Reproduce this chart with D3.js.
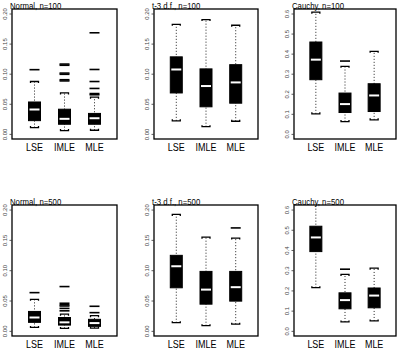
<!DOCTYPE html>
<html>
<head>
<meta charset="utf-8">
<script src="https://cdn.jsdelivr.net/npm/d3@7"></script>
<style>
body { margin:0; background:#fff; }
svg { display:block; }
</style>
</head>
<body>
<div id="chart1"></div>
<script>
// categories and panel titles
var categories = ["LSE", "IMLE", "MLE"];
var titles = ["Normal, n=100", "t-3 d.f., n=100", "Cauchy, n=100",
              "Normal, n=500", "t-3 d.f., n=500", "Cauchy, n=500"];

// box stats per panel: [lower whisker, q1, median, q3, upper whisker] for LSE, IMLE, MLE
var normal100 = [[0.0105, 0.022, 0.0405, 0.053, 0.087],
                 [0.0055, 0.016, 0.025, 0.041, 0.068],
                 [0.006, 0.016, 0.026, 0.034, 0.061]];
var normal100Out = [[0.1067],
                    [0.088, 0.090, 0.099, 0.101, 0.114, 0.116],
                    [0.065, 0.067, 0.0755, 0.087, 0.107, 0.168]];

var t100 = [[0.0217, 0.068, 0.107, 0.128, 0.182],
            [0.012, 0.045, 0.0795, 0.108, 0.19],
            [0.021, 0.051, 0.0855, 0.115, 0.1805]];
var t100Out = [[], [], []];

var cauchy100 = [[0.10, 0.27, 0.37, 0.458, 0.6065],
                 [0.0615, 0.1065, 0.1485, 0.2035, 0.337],
                 [0.07, 0.1115, 0.1915, 0.25, 0.4115]];
var cauchy100Out = [[], [0.363], []];

var normal500 = [[0.0057, 0.014, 0.022, 0.032, 0.052],
                 [0.004, 0.0095, 0.014, 0.022, 0.0275],
                 [0.0046, 0.0074, 0.0128, 0.019, 0.025]];
var normal500Out = [[0.063],
                    [0.033, 0.037, 0.041, 0.043, 0.0455, 0.073],
                    [0.030, 0.0405]];

var t500 = [[0.0134, 0.071, 0.1065, 0.1245, 0.192],
            [0.0085, 0.044, 0.068, 0.098, 0.1545],
            [0.011, 0.049, 0.072, 0.098, 0.153]];
var t500Out = [[], [], [0.1697]];

var cauchy500 = [[0.2137, 0.392, 0.462, 0.5175, 0.68],
                 [0.044, 0.109, 0.152, 0.188, 0.279],
                 [0.049, 0.114, 0.1745, 0.212, 0.31]];
var cauchy500Out = [[], [0.305], []];

// y tick labels
var ticksSmall = [0, 0.05, 0.10, 0.15, 0.20];
var ticksCauchy = [0, 0.1, 0.2, 0.3, 0.4, 0.5, 0.6];

var panels = [
  {stats: normal100, out: normal100Out, ticks: ticksSmall, fmt: ".2f", max: 0.2},
  {stats: t100, out: t100Out, ticks: ticksSmall, fmt: ".2f", max: 0.2},
  {stats: cauchy100, out: cauchy100Out, ticks: ticksCauchy, fmt: ".1f", max: 0.6},
  {stats: normal500, out: normal500Out, ticks: ticksSmall, fmt: ".2f", max: 0.2},
  {stats: t500, out: t500Out, ticks: ticksSmall, fmt: ".2f", max: 0.2},
  {stats: cauchy500, out: cauchy500Out, ticks: ticksCauchy, fmt: ".1f", max: 0.6}
];

var w = 402, h = 364;
var colLeft = [12, 154, 294], colRight = [117, 258, 396];
var rowTop = [9, 205], rowBottom = [139, 336];
var font = "'Liberation Sans Narrow', 'Arial Narrow', 'Liberation Sans', sans-serif";

var svg = d3.select("#chart1")
  .append("svg")
  .attr("width", w)
  .attr("height", h);

panels.forEach(function(p, i) {
  var c = i % 3, r = Math.floor(i / 3);
  var x0 = colLeft[c], x1 = colRight[c], y0 = rowTop[r], y1 = rowBottom[r];

  var xScale = d3.scaleLinear().domain([0.25, 3.75]).range([x0, x1]);
  var yScale = d3.scaleLinear()
    .domain([-0.0425 * p.max, 1.0375 * p.max])
    .range([y1, y0]);

  var g = svg.append("g");
  var clipId = "clip" + i;
  g.append("clipPath").attr("id", clipId)
    .append("rect")
    .attr("x", x0).attr("y", y0)
    .attr("width", x1 - x0).attr("height", y1 - y0);

  var plot = g.append("g").attr("clip-path", "url(#" + clipId + ")");

  p.stats.forEach(function(s, k) {
    var cx = xScale(k + 1);
    var bw = 12, cw = 8;
    // whiskers
    plot.append("line")
      .attr("x1", cx).attr("x2", cx)
      .attr("y1", yScale(s[0])).attr("y2", yScale(s[4]))
      .attr("stroke", "#222")
      .attr("stroke-width", 1)
      .attr("stroke-dasharray", "1,2");
    // caps, bracket style
    [[s[0], -1], [s[4], 1]].forEach(function(cp) {
      var yy = yScale(cp[0]);
      plot.append("path")
        .attr("d", "M" + (cx - cw / 2) + "," + (yy + cp[1] * 1.5) + "V" + yy +
                   "H" + (cx + cw / 2) + "V" + (yy + cp[1] * 1.5))
        .attr("fill", "none")
        .attr("stroke", "#000")
        .attr("stroke-width", 1.3);
    });
    // box
    plot.append("rect")
      .attr("x", cx - bw / 2)
      .attr("width", bw)
      .attr("y", yScale(s[3]))
      .attr("height", yScale(s[1]) - yScale(s[3]))
      .attr("fill", "#000")
      .attr("stroke", "#000")
      .attr("stroke-width", 1);
    // median
    plot.append("line")
      .attr("x1", cx - bw / 2 + 1).attr("x2", cx + bw / 2 - 1)
      .attr("y1", yScale(s[2])).attr("y2", yScale(s[2]))
      .attr("stroke", "#fff")
      .attr("stroke-width", 2);
    // outliers drawn as dashes
    plot.selectAll(null)
      .data(p.out[k])
      .enter()
      .append("line")
      .attr("x1", cx - 5).attr("x2", cx + 5)
      .attr("y1", function(d) { return yScale(d); })
      .attr("y2", function(d) { return yScale(d); })
      .attr("stroke", "#000")
      .attr("stroke-width", 1.6);
  });

  // frame
  g.append("rect")
    .attr("x", x0).attr("y", y0)
    .attr("width", x1 - x0).attr("height", y1 - y0)
    .attr("fill", "none")
    .attr("stroke", "#000")
    .attr("stroke-width", 1.3);

  // y axis
  var yAxis = g.append("g")
    .attr("transform", "translate(" + x0 + ",0)")
    .call(d3.axisLeft(yScale).tickValues(p.ticks).tickSize(2.5)
      .tickFormat(d3.format(p.fmt)));
  yAxis.select(".domain").remove();
  yAxis.selectAll("line").attr("stroke", "#333").attr("stroke-width", 0.8);
  yAxis.selectAll("text")
    .attr("x", 0).attr("y", 0).attr("dy", 0)
    .attr("text-anchor", "middle")
    .attr("dominant-baseline", "middle")
    .attr("transform", "translate(-7,0) rotate(-90)")
    .attr("font-family", font)
    .attr("font-size", 6)
    .attr("fill", "#444");

  // category labels (condensed look)
  g.selectAll(null)
    .data(categories)
    .enter()
    .append("text")
    .attr("transform", function(d, k) {
      return "translate(" + xScale(k + 1) + "," + (y1 + 12) + ") scale(0.78,1)";
    })
    .attr("text-anchor", "middle")
    .attr("font-family", font)
    .attr("font-size", 11.5)
    .text(function(d) { return d; });

  // title
  g.append("text")
    .attr("transform", "translate(" + (x0 - 2) + "," + (y0 - 0.5) + ") scale(0.82,1)")
    .attr("font-family", font)
    .attr("font-size", 9.5)
    .text(titles[i]);
});
</script>
</body>
</html>
